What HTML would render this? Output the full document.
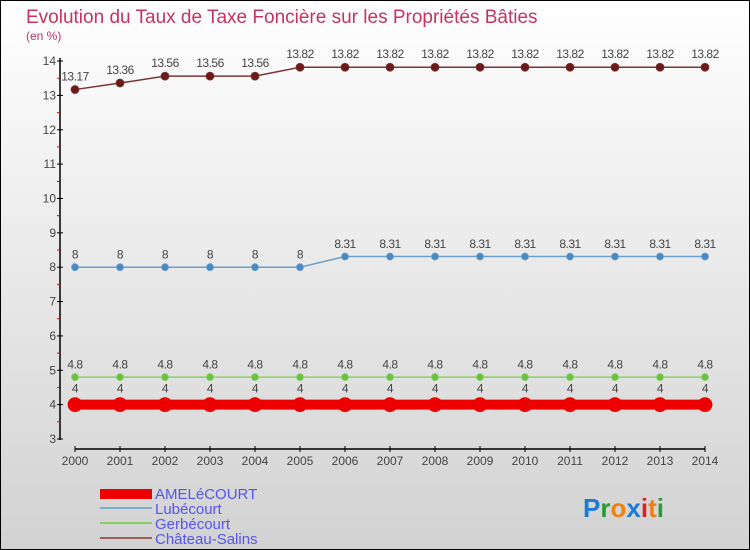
<!DOCTYPE html>
<html><head><meta charset="utf-8"><style>
body{margin:0}
#c{width:750px;height:550px;position:relative;box-sizing:border-box;border:1px solid #000;background:linear-gradient(#fff,#d2d2d2);font-family:"Liberation Sans",sans-serif;overflow:hidden}
</style></head><body>
<div id="c">
<svg id="s" width="750" height="550" style="position:absolute;left:-1px;top:-1px">
<text x="26" y="23" font-size="19" fill="#c8325f">Evolution du Taux de Taxe Foncière sur les Propriétés Bâties</text>
<text x="26" y="40" font-size="12" fill="#c8325f">(en %)</text>
<g id="axes"></g><g id="series"></g>
<g>
<rect x="100" y="489" width="52" height="10" fill="#e00"/>
<text x="155" y="499" font-size="15" fill="#5555ee">AMELéCOURT</text>
<rect x="100" y="507" width="52" height="2" fill="#7aaccc"/>
<text x="155" y="514" font-size="15" fill="#5555ee">Lubécourt</text>
<rect x="100" y="522" width="52" height="2" fill="#88d066"/>
<text x="155" y="529" font-size="15" fill="#5555ee">Gerbécourt</text>
<rect x="100" y="537" width="52" height="2" fill="#9a6060"/>
<text x="155" y="544" font-size="15" fill="#5555ee">Château-Salins</text>
</g>
<text x="583" y="517" font-size="26" font-weight="bold"><tspan fill="#1a7ad4">P</tspan><tspan fill="#2a9a3a">r</tspan><tspan fill="#f08010">o</tspan><tspan fill="#1a7ad4">x</tspan><tspan fill="#e02020">i</tspan><tspan fill="#f08010">t</tspan><tspan fill="#2a9a3a">i</tspan></text>
</svg>
</div>
<script>
const years=[2000,2001,2002,2003,2004,2005,2006,2007,2008,2009,2010,2011,2012,2013,2014];
const yTicks=[3,4,5,6,7,8,9,10,11,12,13,14];
const amelecourt=[4,4,4,4,4,4,4,4,4,4,4,4,4,4,4];
const lubecourt=[8,8,8,8,8,8,8.31,8.31,8.31,8.31,8.31,8.31,8.31,8.31,8.31];
const gerbecourt=[4.8,4.8,4.8,4.8,4.8,4.8,4.8,4.8,4.8,4.8,4.8,4.8,4.8,4.8,4.8];
const chateauSalins=[13.17,13.36,13.56,13.56,13.56,13.82,13.82,13.82,13.82,13.82,13.82,13.82,13.82,13.82,13.82];
const NS="http://www.w3.org/2000/svg";
const X=i=>75+i*45, Y=v=>439-(v-3)*34.36;
function mk(p,t,a){const e=document.createElementNS(NS,t);for(const k in a)e.setAttribute(k,a[k]);p.appendChild(e);return e;}
const ax=document.getElementById('axes');
let l=mk(ax,'line',{x1:60,y1:58,x2:60,y2:440,stroke:'#000','stroke-width':1.5});


l=mk(ax,'line',{x1:75,y1:449,x2:705,y2:449,stroke:'#000','stroke-width':1.5});


yTicks.forEach(v=>{
 mk(ax,'line',{x1:57,x2:63,y1:Y(v),y2:Y(v),stroke:'#000'});
 if(v<14) mk(ax,'line',{x1:57,x2:60,y1:Y(v+0.5),y2:Y(v+0.5),stroke:'#e00'});
 const t=mk(ax,'text',{x:56,y:Y(v)+4,'font-size':12,fill:'#444','text-anchor':'end'});
 t.textContent=v;
 
 
});
years.forEach((y,i)=>{
 mk(ax,'line',{x1:X(i),x2:X(i),y1:446,y2:452,stroke:'#000'});
 const t=mk(ax,'text',{x:X(i),y:465,'font-size':12,fill:'#444','text-anchor':'middle'});
 t.textContent=y;
 
 
});
const sg=document.getElementById('series');
function series(name,vals,color,lw,r,dot,lab){
 const g=mk(sg,'g',{});
 
 
 mk(g,'polyline',{points:vals.map((v,i)=>X(i)+','+Y(v)).join(' '),fill:'none',stroke:color,'stroke-width':lw});
 vals.forEach((v,i)=>{
  const c=mk(g,'circle',{cx:X(i),cy:Y(v),r:r,fill:dot,stroke:color,'stroke-width':0.8});
  
  
  const t=mk(g,'text',{x:X(i),y:Y(v)-r-5,'font-size':12,fill:'#444','text-anchor':'middle','letter-spacing':'-0.5'});
  t.textContent=v;
  
  
 });
}
series('chateau-salins',chateauSalins,'#7a3434',1.5,4,'#6a1a1a');
series('lubecourt',lubecourt,'#6aa0cc',1.5,3.5,'#4a88c0');
series('gerbecourt',gerbecourt,'#88d066',1.5,3.5,'#6cc040');
series('amelecourt',amelecourt,'#e00',10,7,'#e00');
</script>
</body></html>
